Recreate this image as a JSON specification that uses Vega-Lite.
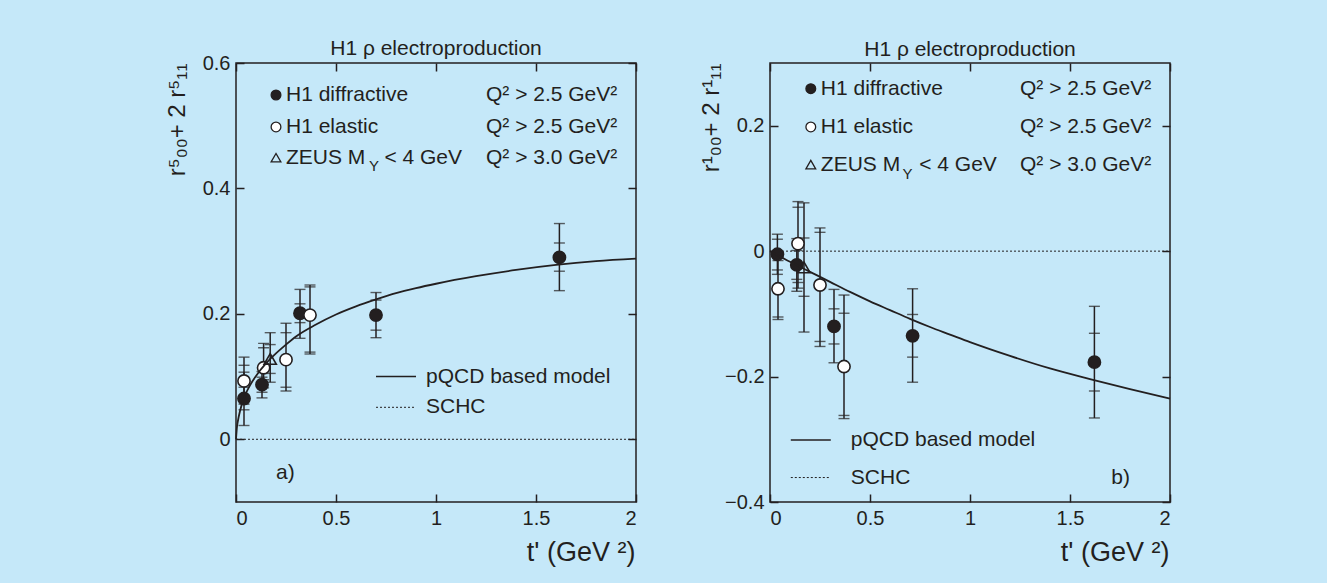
{
  "$schema": "https://vega.github.io/schema/vega-lite/v6.json",
  "padding": {"left": 164, "top": 37, "right": 156, "bottom": 17},
  "bounds": "flush",
  "spacing": 134,
  "config": {
    "background": "#c5e8f9",
    "view": {"stroke": "#231f20", "strokeWidth": 1.5},
    "font": "Liberation Sans",
    "axis": {"labelFont": "Liberation Sans", "labelFontSize": 20, "labelColor": "#231f20", "titleFont": "Liberation Sans", "titleFontSize": 27, "titleFontWeight": "normal", "titleColor": "#231f20", "tickColor": "#231f20", "tickWidth": 1.5, "tickSize": -8, "labelPadding": 14, "grid": false, "domain": false},
    "title": {"font": "Liberation Sans", "fontSize": 21, "fontWeight": "normal", "color": "#231f20", "anchor": "middle"}
  },
  "datasets": {
    "ptsL": [
      {"t": 0.04, "v": 0.065, "s": "d", "sl": 0.047, "sh": 0.083, "tl": 0.022, "th": 0.107},
      {"t": 0.04, "v": 0.093, "s": "e", "sl": 0.070, "sh": 0.118, "tl": 0.056, "th": 0.131},
      {"t": 0.13, "v": 0.087, "s": "d", "sl": 0.075, "sh": 0.099, "tl": 0.066, "th": 0.108},
      {"t": 0.138, "v": 0.114, "s": "e", "sl": 0.095, "sh": 0.146, "tl": 0.082, "th": 0.153},
      {"t": 0.171, "v": 0.128, "s": "z", "sl": 0.105, "sh": 0.151, "tl": 0.091, "th": 0.170},
      {"t": 0.25, "v": 0.127, "s": "e", "sl": 0.083, "sh": 0.170, "tl": 0.077, "th": 0.185},
      {"t": 0.32, "v": 0.201, "s": "d", "sl": 0.186, "sh": 0.216, "tl": 0.161, "th": 0.239},
      {"t": 0.37, "v": 0.198, "s": "e", "sl": 0.139, "sh": 0.243, "tl": 0.136, "th": 0.246},
      {"t": 0.70, "v": 0.198, "s": "d", "sl": 0.174, "sh": 0.222, "tl": 0.162, "th": 0.234},
      {"t": 1.617, "v": 0.290, "s": "d", "sl": 0.268, "sh": 0.313, "tl": 0.237, "th": 0.344}
    ],
    "ptsR": [
      {"t": 0.037, "v": -0.005, "s": "d", "sl": -0.030, "sh": 0.019, "tl": -0.037, "th": 0.027},
      {"t": 0.04, "v": -0.060, "s": "e", "sl": -0.105, "sh": -0.015, "tl": -0.109, "th": -0.011},
      {"t": 0.134, "v": -0.022, "s": "d", "sl": -0.045, "sh": 0.001, "tl": -0.064, "th": 0.020},
      {"t": 0.14, "v": 0.012, "s": "e", "sl": -0.050, "sh": 0.070, "tl": -0.059, "th": 0.079},
      {"t": 0.17, "v": -0.026, "s": "z", "sl": -0.072, "sh": 0.021, "tl": -0.129, "th": 0.077},
      {"t": 0.25, "v": -0.054, "s": "e", "sl": -0.144, "sh": 0.030, "tl": -0.152, "th": 0.037},
      {"t": 0.32, "v": -0.120, "s": "d", "sl": -0.148, "sh": -0.092, "tl": -0.178, "th": -0.061},
      {"t": 0.37, "v": -0.184, "s": "e", "sl": -0.262, "sh": -0.099, "tl": -0.267, "th": -0.070},
      {"t": 0.713, "v": -0.135, "s": "d", "sl": -0.169, "sh": -0.101, "tl": -0.209, "th": -0.060},
      {"t": 1.622, "v": -0.177, "s": "d", "sl": -0.223, "sh": -0.131, "tl": -0.266, "th": -0.088}
    ],
    "curveL": [
      {"t": 0.0, "v": 0.0}, {"t": 0.005, "v": 0.02}, {"t": 0.01, "v": 0.03}, {"t": 0.02, "v": 0.045},
      {"t": 0.04, "v": 0.066}, {"t": 0.07, "v": 0.086}, {"t": 0.1, "v": 0.101}, {"t": 0.15, "v": 0.121},
      {"t": 0.2, "v": 0.137}, {"t": 0.25, "v": 0.151}, {"t": 0.3, "v": 0.164}, {"t": 0.4, "v": 0.183},
      {"t": 0.5, "v": 0.199}, {"t": 0.6, "v": 0.212}, {"t": 0.7, "v": 0.223}, {"t": 0.8, "v": 0.233},
      {"t": 0.9, "v": 0.241}, {"t": 1.0, "v": 0.248}, {"t": 1.2, "v": 0.26}, {"t": 1.4, "v": 0.27},
      {"t": 1.6, "v": 0.278}, {"t": 1.8, "v": 0.284}, {"t": 2.0, "v": 0.288}
    ],
    "curveR": [
      {"t": 0.0, "v": 0.0}, {"t": 0.1, "v": -0.017}, {"t": 0.2, "v": -0.033}, {"t": 0.3, "v": -0.049},
      {"t": 0.4, "v": -0.065}, {"t": 0.5, "v": -0.08}, {"t": 0.6, "v": -0.094}, {"t": 0.7, "v": -0.108},
      {"t": 0.8, "v": -0.121}, {"t": 0.9, "v": -0.133}, {"t": 1.0, "v": -0.145}, {"t": 1.2, "v": -0.167},
      {"t": 1.4, "v": -0.187}, {"t": 1.6, "v": -0.204}, {"t": 1.8, "v": -0.22}, {"t": 2.0, "v": -0.235}
    ],
    "legSymL": [{"t": 0.2, "v": 0.549, "s": "d"}, {"t": 0.2, "v": 0.498, "s": "e"}, {"t": 0.2, "v": 0.449, "s": "z"}],
    "legSymR": [{"t": 0.204, "v": 0.259, "s": "d"}, {"t": 0.204, "v": 0.198, "s": "e"}, {"t": 0.204, "v": 0.138, "s": "z"}],
    "legTxtL": [
      {"t": 0.25, "v": 0.549, "label": "H1 diffractive"},
      {"t": 0.25, "v": 0.498, "label": "H1 elastic"},
      {"t": 0.25, "v": 0.449, "label": "ZEUS M"},
      {"t": 0.742, "v": 0.449, "label": "< 4 GeV"},
      {"t": 1.25, "v": 0.549, "label": "Q² > 2.5 GeV²"},
      {"t": 1.25, "v": 0.498, "label": "Q² > 2.5 GeV²"},
      {"t": 1.25, "v": 0.449, "label": "Q² > 3.0 GeV²"},
      {"t": 0.95, "v": 0.1, "label": "pQCD based model"},
      {"t": 0.95, "v": 0.051, "label": "SCHC"},
      {"t": 0.2, "v": -0.053, "label": "a)"}
    ],
    "legTxtR": [
      {"t": 0.254, "v": 0.259, "label": "H1 diffractive"},
      {"t": 0.254, "v": 0.198, "label": "H1 elastic"},
      {"t": 0.254, "v": 0.138, "label": "ZEUS M"},
      {"t": 0.746, "v": 0.138, "label": "< 4 GeV"},
      {"t": 1.25, "v": 0.259, "label": "Q² > 2.5 GeV²"},
      {"t": 1.25, "v": 0.198, "label": "Q² > 2.5 GeV²"},
      {"t": 1.25, "v": 0.138, "label": "Q² > 3.0 GeV²"},
      {"t": 0.404, "v": -0.301, "label": "pQCD based model"},
      {"t": 0.404, "v": -0.361, "label": "SCHC"},
      {"t": 1.706, "v": -0.362, "label": "b)"}
    ],
    "subL": [{"t": 0.665, "v": 0.436, "label": "Y"}],
    "subR": [{"t": 0.663, "v": 0.123, "label": "Y"}],
    "lineL": [{"t0": 0.7, "t1": 0.9, "v": 0.1, "k": "model"}, {"t0": 0.7, "t1": 0.9, "v": 0.051, "k": "schc"}, {"t0": 0, "t1": 2, "v": 0, "k": "schc"}],
    "lineR": [{"t0": 0.104, "t1": 0.304, "v": -0.301, "k": "model"}, {"t0": 0.104, "t1": 0.304, "v": -0.361, "k": "schc"}, {"t0": 0, "t1": 2, "v": 0, "k": "schc"}]
  },
  "hconcat": [
    {
      "width": 400, "height": 439,
      "title": {"text": "H1  ρ electroproduction", "offset": -6},
      "resolve": {"axis": {"x": "independent", "y": "independent"}},
      "layer": [
        {
          "data": {"name": "lineL"},
          "transform": [{"filter": "datum.k == 'schc'"}],
          "mark": {"type": "rule", "strokeDash": [2, 2], "strokeWidth": 1, "color": "#231f20"},
          "encoding": {
            "x": {"field": "t0", "type": "quantitative", "scale": {"domain": [0, 2], "nice": false, "zero": false},
              "axis": {"values": [0, 0.5, 1, 1.5, 2], "format": "~g", "title": "t' (GeV ²)", "titleAlign": "right", "titleAnchor": "end", "titleX": 399, "titleY": 58, "titleBaseline": "alphabetic"}},
            "x2": {"field": "t1"},
            "y": {"field": "v", "type": "quantitative", "scale": {"domain": [-0.1, 0.6], "nice": false, "zero": false},
              "axis": {"values": [0, 0.2, 0.4, 0.6], "format": "~g", "title": "r⁵₀₀+ 2 r⁵₁₁", "titleFontSize": 24, "titleAlign": "right", "titleAnchor": "end", "titleX": -52, "titleY": 0, "titleBaseline": "alphabetic", "titleAngle": -90}}
          }
        },
        {
          "data": {"name": "lineL"},
          "transform": [{"filter": "datum.k == 'model'"}],
          "mark": {"type": "rule", "strokeWidth": 1.5, "color": "#231f20"},
          "encoding": {
            "x": {"field": "t0", "type": "quantitative", "axis": {"orient": "top", "values": [0, 0.5, 1, 1.5, 2], "labels": false, "title": null}},
            "x2": {"field": "t1"},
            "y": {"field": "v", "type": "quantitative", "axis": {"orient": "right", "values": [0, 0.2, 0.4, 0.6], "labels": false, "title": null}}
          }
        },
        {
          "data": {"name": "ptsL"},
          "mark": {"type": "rule", "strokeWidth": 1.5, "color": "#231f20"},
          "encoding": {
            "x": {"field": "t", "type": "quantitative", "axis": null},
            "y": {"field": "tl", "type": "quantitative", "axis": null},
            "y2": {"field": "th"}
          }
        },
        {
          "data": {"name": "ptsL"},
          "transform": [{"fold": ["sl", "sh", "tl", "th"], "as": ["k", "cv"]}],
          "mark": {"type": "tick", "orient": "horizontal", "size": 11, "thickness": 1.4, "color": "#231f20"},
          "encoding": {
            "x": {"field": "t", "type": "quantitative", "axis": null},
            "y": {"field": "cv", "type": "quantitative", "axis": null}
          }
        },
        {
          "data": {"name": "ptsL"},
          "mark": {"type": "point", "filled": true, "stroke": "#231f20", "strokeWidth": 1.6, "opacity": 1},
          "encoding": {
            "x": {"field": "t", "type": "quantitative", "axis": null},
            "y": {"field": "v", "type": "quantitative", "axis": null},
            "shape": {"field": "s", "type": "nominal", "scale": {"domain": ["d", "e", "z"], "range": ["circle", "circle", "triangle-up"]}, "legend": null},
            "fill": {"field": "s", "type": "nominal", "scale": {"domain": ["d", "e", "z"], "range": ["#231f20", "#ffffff", "transparent"]}, "legend": null},
            "size": {"field": "s", "type": "nominal", "scale": {"domain": ["d", "e", "z"], "range": [150, 150, 170]}, "legend": null}
          }
        },
        {
          "data": {"name": "curveL"},
          "mark": {"type": "line", "interpolate": "monotone", "strokeWidth": 1.8, "color": "#231f20"},
          "encoding": {
            "x": {"field": "t", "type": "quantitative", "axis": null},
            "y": {"field": "v", "type": "quantitative", "axis": null}
          }
        },
        {
          "data": {"name": "legSymL"},
          "mark": {"type": "point", "filled": true, "stroke": "#231f20", "strokeWidth": 1.3, "size": 95, "opacity": 1},
          "encoding": {
            "x": {"field": "t", "type": "quantitative", "axis": null},
            "y": {"field": "v", "type": "quantitative", "axis": null},
            "shape": {"field": "s", "type": "nominal", "legend": null},
            "fill": {"field": "s", "type": "nominal", "legend": null}
          }
        },
        {
          "data": {"name": "legTxtL"},
          "mark": {"type": "text", "align": "left", "baseline": "middle", "fontSize": 21, "color": "#231f20"},
          "encoding": {
            "x": {"field": "t", "type": "quantitative", "axis": null},
            "y": {"field": "v", "type": "quantitative", "axis": null},
            "text": {"field": "label"}
          }
        },
        {
          "data": {"name": "subL"},
          "mark": {"type": "text", "align": "left", "baseline": "middle", "fontSize": 15, "color": "#231f20"},
          "encoding": {
            "x": {"field": "t", "type": "quantitative", "axis": null},
            "y": {"field": "v", "type": "quantitative", "axis": null},
            "text": {"field": "label"}
          }
        }
      ]
    },
    {
      "width": 400, "height": 439,
      "title": {"text": "H1  ρ electroproduction", "offset": 2},
      "resolve": {"axis": {"x": "independent", "y": "independent"}},
      "layer": [
        {
          "data": {"name": "lineR"},
          "transform": [{"filter": "datum.k == 'schc'"}],
          "mark": {"type": "rule", "strokeDash": [2, 2], "strokeWidth": 1, "color": "#231f20"},
          "encoding": {
            "x": {"field": "t0", "type": "quantitative", "scale": {"domain": [0, 2], "nice": false, "zero": false},
              "axis": {"values": [0, 0.5, 1, 1.5, 2], "format": "~g", "title": "t' (GeV ²)", "titleAlign": "right", "titleAnchor": "end", "titleX": 399, "titleY": 58, "titleBaseline": "alphabetic"}},
            "x2": {"field": "t1"},
            "y": {"field": "v", "type": "quantitative", "scale": {"domain": [-0.4, 0.3], "nice": false, "zero": false},
              "axis": {"values": [-0.4, -0.2, 0, 0.2], "format": "~g", "title": "r¹₀₀+ 2 r¹₁₁", "titleFontSize": 24, "titleAlign": "right", "titleAnchor": "end", "titleX": -52, "titleY": 0, "titleBaseline": "alphabetic", "titleAngle": -90}}
          }
        },
        {
          "data": {"name": "lineR"},
          "transform": [{"filter": "datum.k == 'model'"}],
          "mark": {"type": "rule", "strokeWidth": 1.5, "color": "#231f20"},
          "encoding": {
            "x": {"field": "t0", "type": "quantitative", "axis": {"orient": "top", "values": [0, 0.5, 1, 1.5, 2], "labels": false, "title": null}},
            "x2": {"field": "t1"},
            "y": {"field": "v", "type": "quantitative", "axis": {"orient": "right", "values": [-0.4, -0.2, 0, 0.2], "labels": false, "title": null}}
          }
        },
        {
          "data": {"name": "ptsR"},
          "mark": {"type": "rule", "strokeWidth": 1.5, "color": "#231f20"},
          "encoding": {
            "x": {"field": "t", "type": "quantitative", "axis": null},
            "y": {"field": "tl", "type": "quantitative", "axis": null},
            "y2": {"field": "th"}
          }
        },
        {
          "data": {"name": "ptsR"},
          "transform": [{"fold": ["sl", "sh", "tl", "th"], "as": ["k", "cv"]}],
          "mark": {"type": "tick", "orient": "horizontal", "size": 11, "thickness": 1.4, "color": "#231f20"},
          "encoding": {
            "x": {"field": "t", "type": "quantitative", "axis": null},
            "y": {"field": "cv", "type": "quantitative", "axis": null}
          }
        },
        {
          "data": {"name": "ptsR"},
          "mark": {"type": "point", "filled": true, "stroke": "#231f20", "strokeWidth": 1.6, "opacity": 1},
          "encoding": {
            "x": {"field": "t", "type": "quantitative", "axis": null},
            "y": {"field": "v", "type": "quantitative", "axis": null},
            "shape": {"field": "s", "type": "nominal", "scale": {"domain": ["d", "e", "z"], "range": ["circle", "circle", "triangle-up"]}, "legend": null},
            "fill": {"field": "s", "type": "nominal", "scale": {"domain": ["d", "e", "z"], "range": ["#231f20", "#ffffff", "transparent"]}, "legend": null},
            "size": {"field": "s", "type": "nominal", "scale": {"domain": ["d", "e", "z"], "range": [150, 150, 170]}, "legend": null}
          }
        },
        {
          "data": {"name": "curveR"},
          "mark": {"type": "line", "interpolate": "monotone", "strokeWidth": 1.8, "color": "#231f20"},
          "encoding": {
            "x": {"field": "t", "type": "quantitative", "axis": null},
            "y": {"field": "v", "type": "quantitative", "axis": null}
          }
        },
        {
          "data": {"name": "legSymR"},
          "mark": {"type": "point", "filled": true, "stroke": "#231f20", "strokeWidth": 1.3, "size": 95, "opacity": 1},
          "encoding": {
            "x": {"field": "t", "type": "quantitative", "axis": null},
            "y": {"field": "v", "type": "quantitative", "axis": null},
            "shape": {"field": "s", "type": "nominal", "legend": null},
            "fill": {"field": "s", "type": "nominal", "legend": null}
          }
        },
        {
          "data": {"name": "legTxtR"},
          "mark": {"type": "text", "align": "left", "baseline": "middle", "fontSize": 21, "color": "#231f20"},
          "encoding": {
            "x": {"field": "t", "type": "quantitative", "axis": null},
            "y": {"field": "v", "type": "quantitative", "axis": null},
            "text": {"field": "label"}
          }
        },
        {
          "data": {"name": "subR"},
          "mark": {"type": "text", "align": "left", "baseline": "middle", "fontSize": 15, "color": "#231f20"},
          "encoding": {
            "x": {"field": "t", "type": "quantitative", "axis": null},
            "y": {"field": "v", "type": "quantitative", "axis": null},
            "text": {"field": "label"}
          }
        }
      ]
    }
  ]
}
